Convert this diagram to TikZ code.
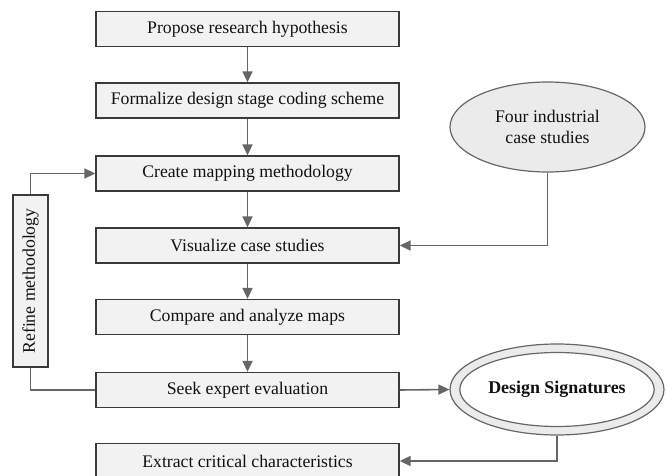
\documentclass[tikz,border=0pt]{standalone}
\usepackage{fontspec}
\setmainfont{Liberation Serif}
\usetikzlibrary{arrows.meta,shapes.geometric}
\definecolor{boxfill}{HTML}{F2F2F2}
\definecolor{boxline}{HTML}{3A3A3A}
\definecolor{connc}{HTML}{666666}
\definecolor{ellfill}{HTML}{EBEBEB}
\definecolor{txt}{HTML}{111111}
\begin{document}
\begin{tikzpicture}[x=1pt,y=-1pt,
  stepbox/.style={draw=boxline, fill=boxfill, line width=1.3pt, minimum width=303pt, minimum height=35pt, inner sep=0pt, text=txt, font=\fontsize{17.7}{20}\selectfont},
  conn/.style={draw=connc, line width=1.6pt},
  arr/.style={conn, -{Triangle[length=11pt,width=10pt]}},
  ell/.style={ellipse, draw=connc, line width=1.2pt, inner sep=0pt, text=txt, align=center}]
\useasboundingbox (0,0) rectangle (667,476);
\node[stepbox] (b1) at (247.5,29) {Propose research hypothesis};
\node[stepbox] (b2) at (247.5,100.5) {Formalize design stage coding scheme};
\node[stepbox] (b3) at (247.5,173.5) {Create mapping methodology};
\node[stepbox] (b4) at (247.5,245.5) {Visualize case studies};
\node[stepbox] (b5) at (247.5,317) {Compare and analyze maps};
\node[stepbox] (b6) at (247.5,390) {Seek expert evaluation};
\node[stepbox] (b7) at (247.5,461) {Extract critical characteristics};
\node[stepbox, rotate=90, minimum width=172pt, minimum height=35pt] (r) at (30.5,281) {Refine methodology};
\node[ell, fill=ellfill, minimum width=195pt, minimum height=90pt, font=\fontsize{17.7}{21.5}\selectfont] (cs) at (547.5,127) {Four industrial\\case studies};
\node[ell, fill=ellfill, minimum width=214pt, minimum height=91pt] (ds) at (557,389.5) {};
\node[ell, fill=white, minimum width=185pt, minimum height=74pt, font=\fontsize{17.9}{20}\selectfont\bfseries] (dsi) at (557,389.5) {Design Signatures};
\draw[arr] (b1) -- (b2);
\draw[arr] (b2) -- (b3);
\draw[arr] (b3) -- (b4);
\draw[arr] (b4) -- (b5);
\draw[arr] (b5) -- (b6);
\draw[arr] (r.east) |- (b3.west);
\draw[conn] (r.west) |- (b6.west);
\draw[arr] (cs.south) |- (b4.east);
\draw[arr] (b6.east) -- (ds.west);
\draw[arr] (ds.south) |- (b7.east);
\end{tikzpicture}
\end{document}
